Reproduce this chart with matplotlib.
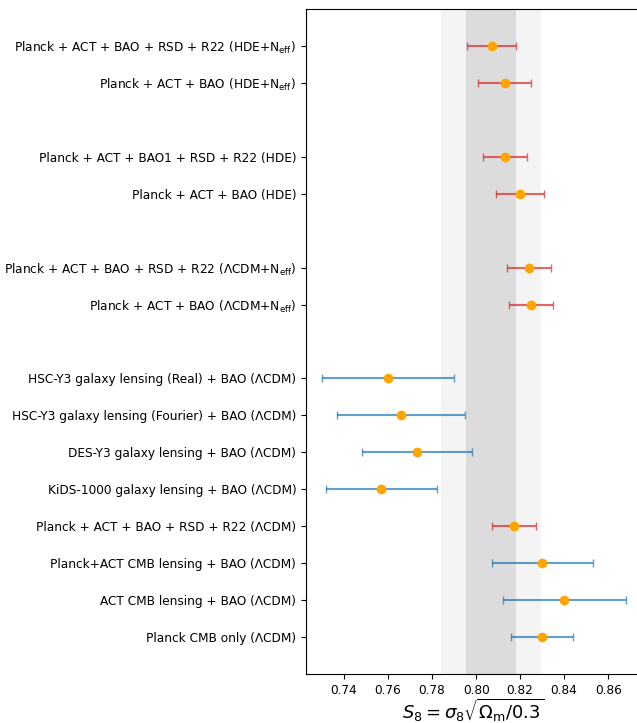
import numpy as np
import matplotlib.pyplot as plt
from matplotlib.colors import to_rgba

# S8 constraints, bottom row first
labels = [
    "Planck CMB only (ΛCDM)",
    "ACT CMB lensing + BAO (ΛCDM)",
    "Planck+ACT CMB lensing + BAO (ΛCDM)",
    "Planck + ACT + BAO + RSD + R22 (ΛCDM)",
    "KiDS-1000 galaxy lensing + BAO (ΛCDM)",
    "DES-Y3 galaxy lensing + BAO (ΛCDM)",
    "HSC-Y3 galaxy lensing (Fourier) + BAO (ΛCDM)",
    "HSC-Y3 galaxy lensing (Real) + BAO (ΛCDM)",
    "Planck + ACT + BAO (ΛCDM+N$_{\\rm eff}$)",
    "Planck + ACT + BAO + RSD + R22 (ΛCDM+N$_{\\rm eff}$)",
    "Planck + ACT + BAO (HDE)",
    "Planck + ACT + BAO1 + RSD + R22 (HDE)",
    "Planck + ACT + BAO (HDE+N$_{\\rm eff}$)",
    "Planck + ACT + BAO + RSD + R22 (HDE+N$_{\\rm eff}$)",
]
ypos = [0, 1, 2, 3, 4, 5, 6, 7, 9, 10, 12, 13, 15, 16]
s8 = [0.830, 0.840, 0.830, 0.817, 0.757, 0.773, 0.766, 0.760,
      0.825, 0.824, 0.820, 0.813, 0.813, 0.807]
s8_err = [0.014, 0.028, 0.023, 0.010, 0.025, 0.025, 0.029, 0.030,
          0.010, 0.010, 0.011, 0.010, 0.012, 0.011]
ours = [False, False, False, True, False, False, False, False,
        True, True, True, True, True, True]

# reference band: mean and 1/2 sigma
s8_ref = 0.8068
s8_ref_sig = 0.0113

fig = plt.figure(figsize=(6.37, 7.23), dpi=100)
ax = fig.add_axes([306/637, 1 - 674/723, 335/637, 665/723])

ax.axvspan(s8_ref - 2*s8_ref_sig, s8_ref + 2*s8_ref_sig, color='#f4f4f4', lw=0, zorder=0)
ax.axvspan(s8_ref - s8_ref_sig, s8_ref + s8_ref_sig, color='#dcdcdc', lw=0, zorder=0)

for i in range(len(ypos)):
    c = 'tab:red' if ours[i] else 'tab:blue'
    ax.errorbar(s8[i], ypos[i], xerr=s8_err[i], fmt='none',
                ecolor=to_rgba(c, 0.7), capsize=3, elinewidth=1.5, zorder=2)
    ax.plot(s8[i], ypos[i], 'o', color='orange', ms=6, zorder=3)

ax.set_yticks(ypos)
ax.set_yticklabels(labels, fontsize=8.7)
ax.set_xticks(np.arange(0.74, 0.861, 0.02))
ax.set_xticklabels(['%.2f' % v for v in np.arange(0.74, 0.861, 0.02)], fontsize=8.7)
ax.set_xlim(0.7227, 0.8749)
ax.set_ylim(-1, 17)
ax.set_xlabel(r'$S_8 = \sigma_8\sqrt{\Omega_{\rm m}/0.3}$', fontsize=13, labelpad=0)

fig.savefig('out.png', dpi=100)
